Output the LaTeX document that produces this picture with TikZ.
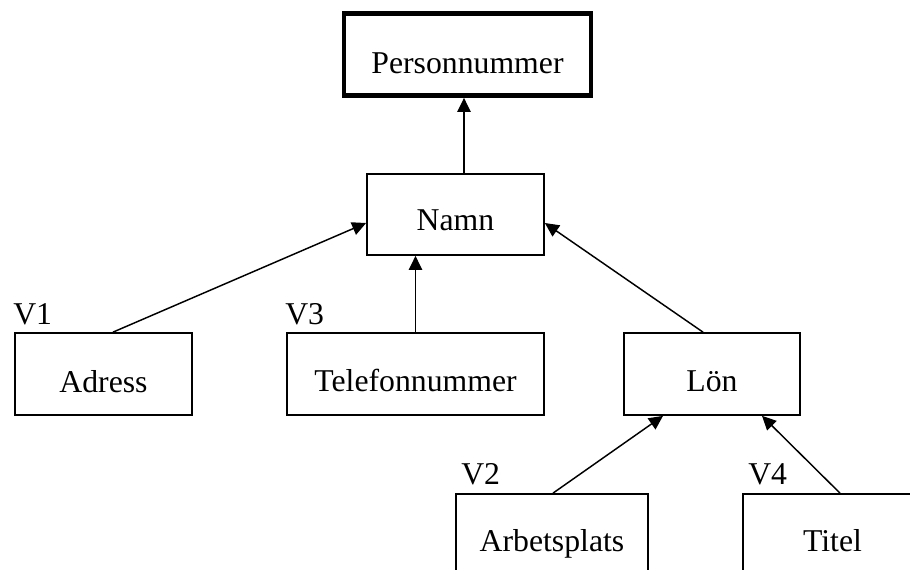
\documentclass[tikz,border=0pt]{standalone}
\usepackage{fontspec}
\setmainfont{Liberation Serif}
\usetikzlibrary{arrows.meta,calc}
\begin{document}
\begin{tikzpicture}[x=0.75pt,y=-0.75pt,
  every node/.style={font=\fontsize{23.8}{28}\selectfont},
  attr/.style={draw, line width=1.3pt, minimum width=#1, minimum height=61.5pt,
    inner sep=0pt, text depth=0pt},
  keybox/.style={attr=#1, line width=3.6pt},
  vlabel/.style={anchor=base west, inner sep=0pt},
  arr/.style={line width=1.1pt, -{Triangle[length=10.5pt,width=10pt]}}]
\useasboundingbox (0,0) rectangle (910,569);
\fill[white] (0,0) rectangle (910,569);
\clip (0,0) rectangle (910,569);

\node[keybox=185.25pt, text height=27.75pt] (pn) at (467.5,54.5) {Personnummer};
\node[attr=132.75pt, minimum height=60.75pt, text height=23.25pt] (namn) at (455.5,214.5) {Namn};
\node[attr=132.75pt, text height=27pt] (adress) at (103.5,374) {Adress};
\node[attr=192.75pt, text height=26.5pt] (tel) at (415.5,374) {Telefonnummer};
\node[attr=132pt, text height=26.5pt] (lon) at (712,374) {Lön};
\node[attr=144pt, text height=24pt] (arb) at (552,535) {Arbetsplats};
\node[attr=134.25pt, text height=24pt] (titel) at (832.5,535) {Titel};

\node[vlabel] (v1) at (13,324) {V1};
\node[vlabel] (v3) at (285,324) {V3};
\node[vlabel] (v2) at (461,484) {V2};
\node[vlabel] (v4) at (748,484) {V4};

\draw[arr] ([xshift=6.375pt]namn.north) -- ([xshift=6.375pt]namn.north |- pn.south);
\draw[arr] ($(adress.north)+(9.5,0)$) -- ($(namn.west)+(0,8.5)$);
\draw[arr] (tel.north) -- (tel.north |- namn.south);
\draw[arr] ($(lon.north)+(-9,0)$) -- ($(namn.east)+(0,8.5)$);
\draw[arr] ($(arb.north)+(1,0)$) -- ($(lon.south)+(-49,0)$);
\draw[arr] ($(titel.north)+(7.5,0)$) -- ($(lon.south)+(50,0)$);
\end{tikzpicture}
\end{document}
